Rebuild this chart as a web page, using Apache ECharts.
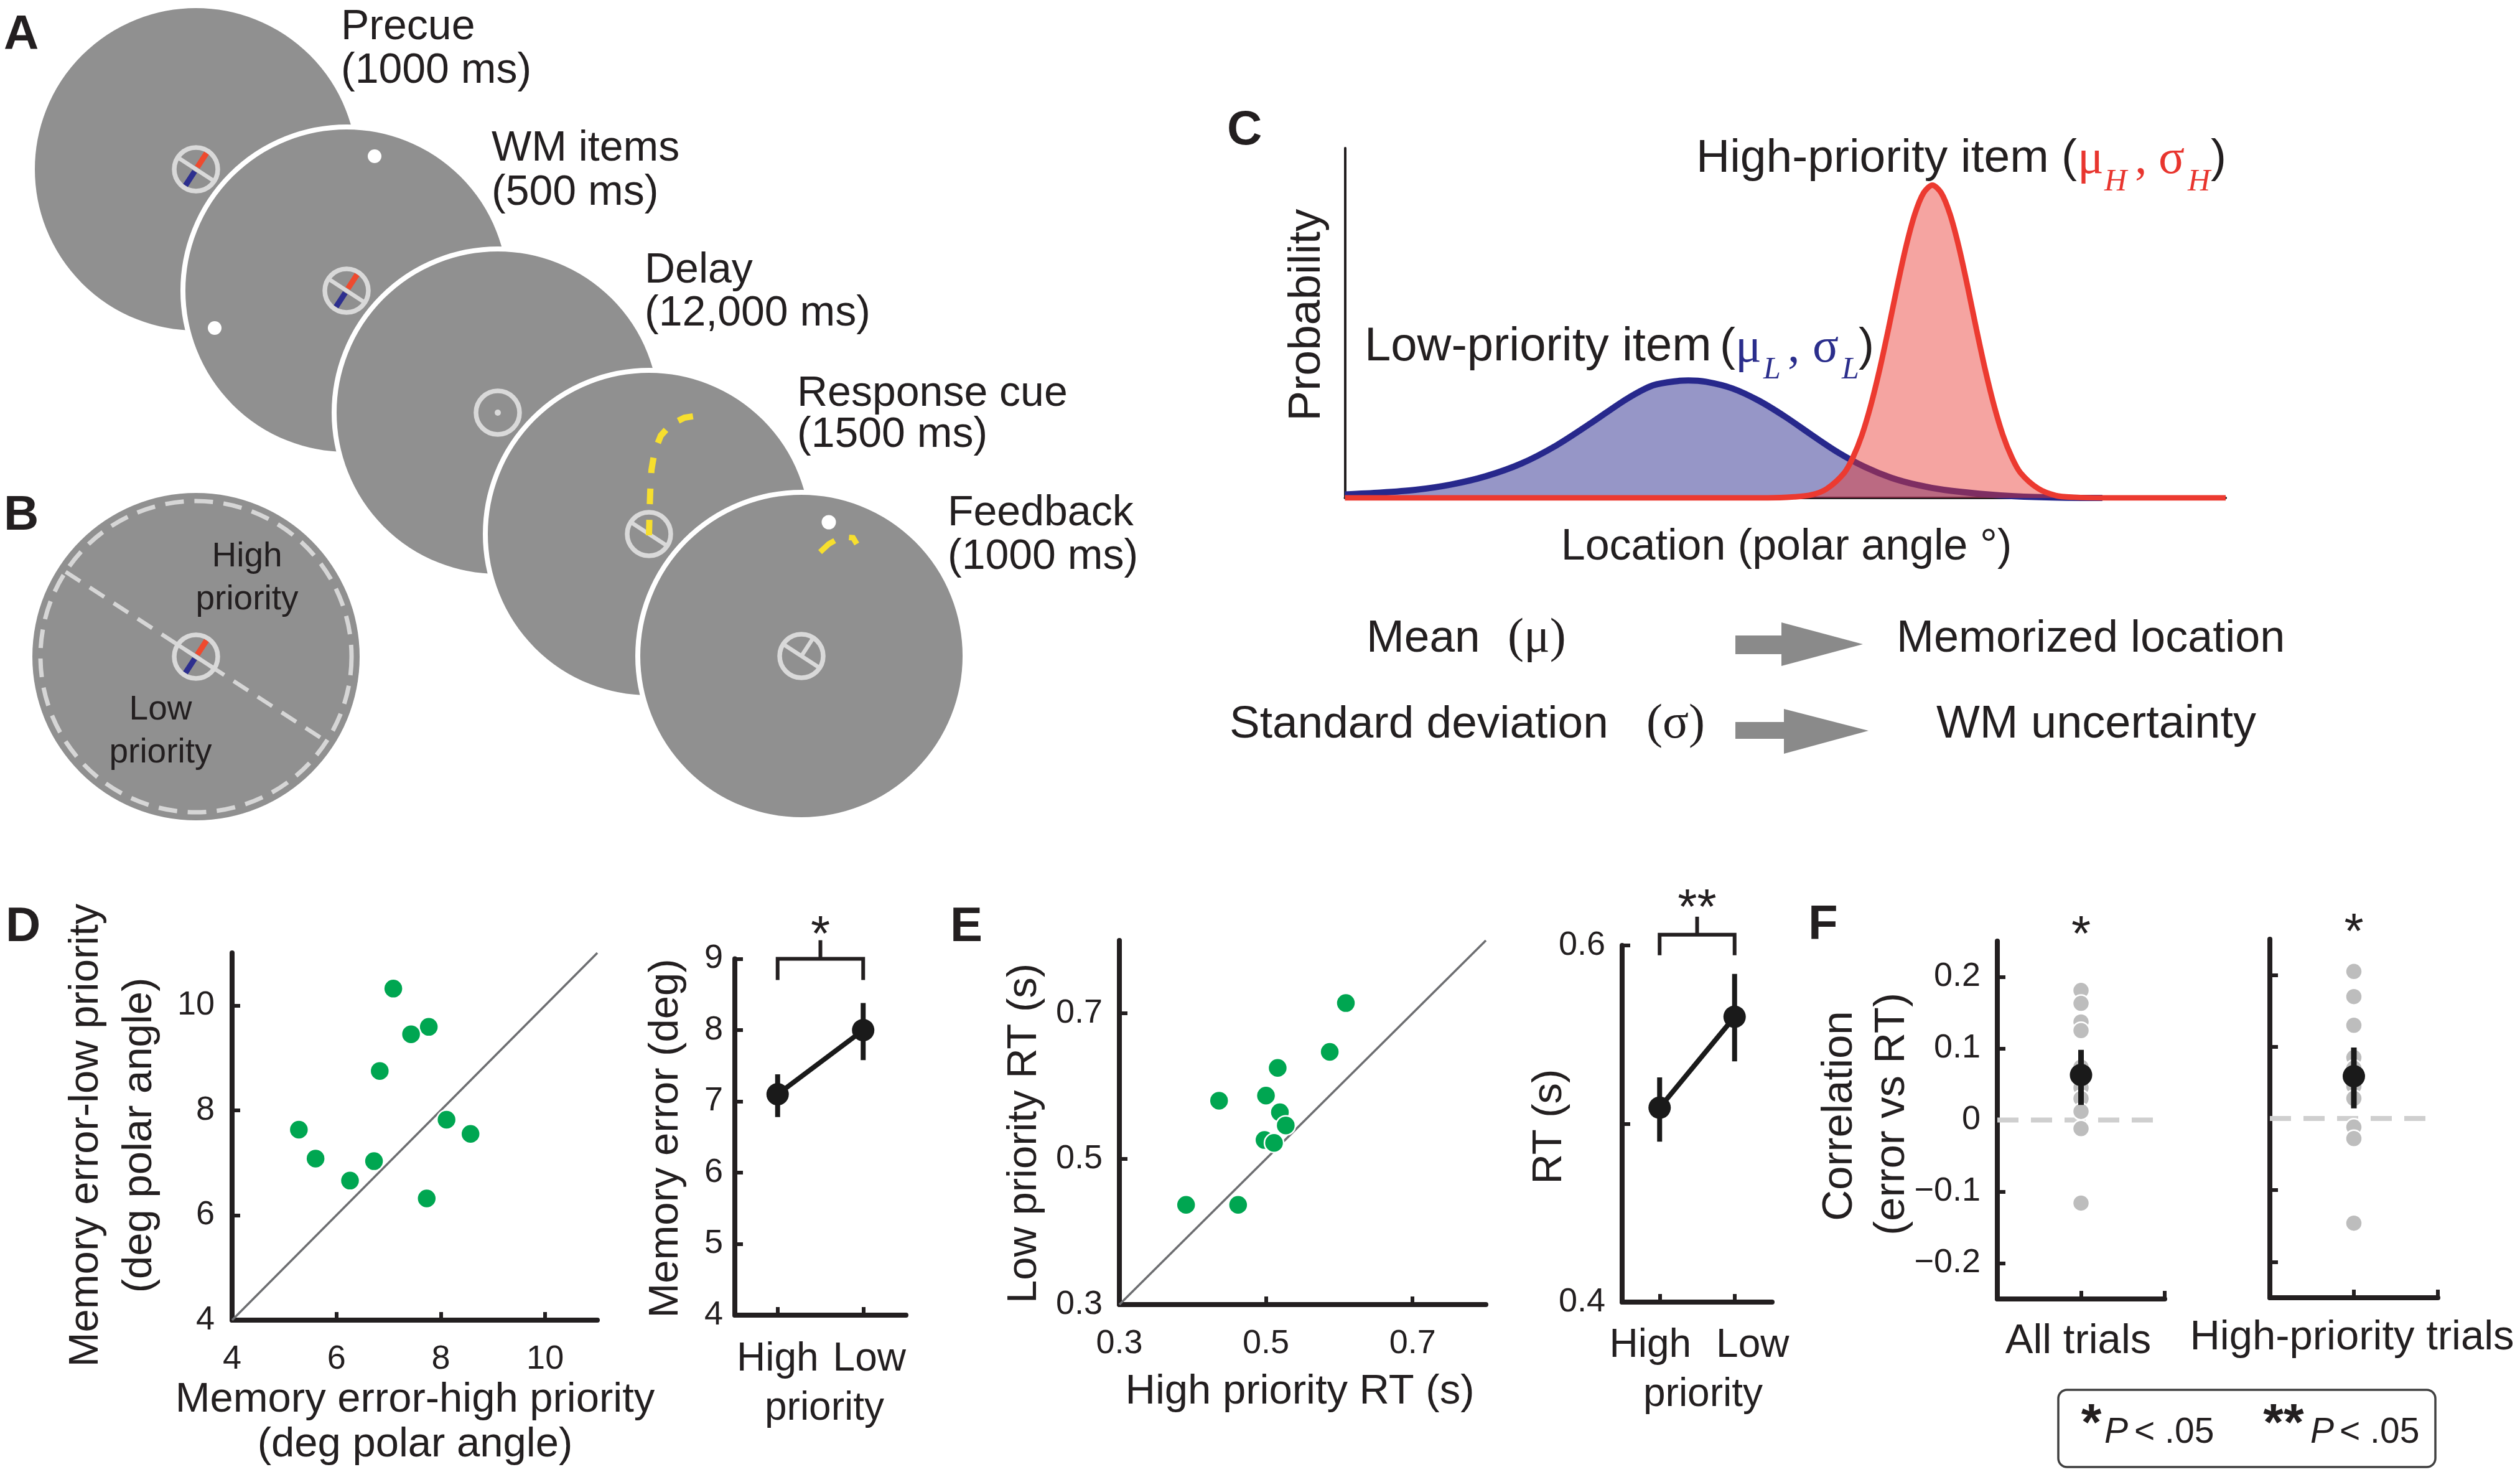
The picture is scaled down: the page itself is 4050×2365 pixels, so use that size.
<!DOCTYPE html>
<html><head><meta charset="utf-8">
<script src="https://cdn.jsdelivr.net/npm/echarts@6/dist/echarts.min.js"></script>
<style>html,body{margin:0;padding:0;background:#fff}#c{width:4050px;height:2365px}</style>
</head><body><div id="c"></div>
<script>
// ---------------- data ----------------
// Panel C: probability curves (x: location 0..100, y: % of axis height)
const cBlueX = [0, 4, 8, 12, 16, 20, 24, 28, 32, 35, 38, 39, 41, 44, 47, 50, 53, 56, 59, 62, 65, 68, 72, 76, 81, 86];
const cBlueY = [1.0, 1.5, 2.3, 3.8, 6.2, 9.8, 15.0, 21.5, 28.3, 32.2, 33.5, 33.6, 33.2, 31.3, 27.8, 23.2, 18.0, 13.0, 8.9, 5.8, 3.7, 2.3, 1.2, 0.5, 0.1, 0];
const cRedX = [0, 48, 51, 53, 54.7, 56.7, 57.7, 58.7, 59.7, 60.7, 61.7, 62.7, 63.7, 64.7, 65.7, 66.7, 67.7, 68.7, 69.7, 70.7, 71.7, 72.7, 73.7, 74.7, 75.7, 76.7, 78.7, 80.7, 82.7, 86, 100];
const cRedY = [0, 0, 0.3, 0.9, 2.6, 7.2, 11.7, 18.0, 26.4, 36.6, 48.2, 60.4, 71.8, 81.1, 87.2, 89.4, 87.2, 81.1, 71.8, 60.4, 48.2, 36.6, 26.4, 18.0, 11.7, 7.2, 2.7, 0.7, 0.2, 0, 0];

// Panel D
const dHigh = [7.09, 7.77, 7.43, 6.83, 5.28, 8.11, 8.57, 5.60, 6.72, 6.26, 7.73];
const dLow  = [10.32, 9.59, 9.45, 8.75, 7.63, 7.82, 7.55, 7.08, 7.03, 6.66, 6.32];
const dIdentity = [4, 11];
const priorityCats = ['High', 'Low'];
const dMean = [7.1, 8.0];
const dLo = [6.78, 7.58];
const dHi = [7.38, 8.38];
const dSig = '*';

// Panel E
const eHigh = [0.609, 0.587, 0.516, 0.436, 0.500, 0.519, 0.527, 0.498, 0.511, 0.391, 0.462];
const eLow  = [0.714, 0.647, 0.625, 0.580, 0.587, 0.564, 0.546, 0.526, 0.522, 0.437, 0.437];
const eIdentity = [0.3, 0.8];
const eMean = [0.509, 0.560];
const eLo = [0.490, 0.535];
const eHi = [0.526, 0.584];
const eSig = '**';

// Panel F
const fAll = [0.181, 0.163, 0.137, 0.125, 0.074, 0.058, 0.045, 0.030, 0.012, -0.012, -0.116];
const fHighPri = [0.205, 0.170, 0.130, 0.085, 0.070, 0.058, 0.045, 0.028, -0.012, -0.028, -0.146];
const fMean = [0.063, 0.059];
const fLo = [0.021, 0.014];
const fHi = [0.098, 0.099];
const fZero = [0, 2];
const fSig = ['*', '*'];
const fGroups = ['All trials', 'High-priority trials'];

// Tick values
const dScatterTicks = [4, 6, 8, 10];
const dLineTicks = [4, 5, 6, 7, 8, 9];
const eScatterTicks = [0.3, 0.5, 0.7];
const eLineTicks = [0.4, 0.5, 0.6];
const eLineLabels = [0.4, 0.6];
const fTicks = [-0.2, -0.1, 0, 0.1, 0.2];
const fXTicks = [1, 2];

// ---------------- styling helpers ----------------
const INK = '#231f20';
const FONT = 'Liberation Sans';
const SERIF = 'Liberation Serif';
const GREEN = '#00a651';

function vAxis(gridIndex, min, max, ticks, labels, margin, fmt) {
  return {
    type: 'value', gridIndex, min, max,
    axisLine: {show: true, onZero: false, lineStyle: {color: INK, width: 8}},
    axisTick: {show: ticks !== null, inside: true, length: 13, customValues: ticks || undefined, lineStyle: {color: INK, width: 6}},
    axisLabel: {show: labels !== null, customValues: labels || undefined, margin: margin || 8,
      fontSize: 54, fontFamily: FONT, color: INK, formatter: fmt || (v => String(v))},
    splitLine: {show: false}
  };
}
function cAxis(gridIndex, margin, padHigh, padLow) {
  return {
    type: 'category', gridIndex, data: priorityCats, boundaryGap: true,
    axisLine: {show: true, onZero: false, lineStyle: {color: INK, width: 8}},
    axisTick: {show: true, inside: true, alignWithLabel: true, length: 13, lineStyle: {color: INK, width: 6}},
    axisLabel: {interval: 0, margin,
      formatter: v => (v === priorityCats[0] ? '{h|' + v + '}' : '{l|' + v + '}'),
      rich: {
        h: {fontSize: 64, fontFamily: FONT, color: INK, padding: [0, padHigh, 0, 0]},
        l: {fontSize: 64, fontFamily: FONT, color: INK, padding: [0, 0, 0, padLow]}
      }},
    splitLine: {show: false}
  };
}
function errSeries(xi, yi, xs, lo, hi, w) {
  return {
    type: 'custom', xAxisIndex: xi, yAxisIndex: yi, clip: false, silent: true, z: 4,
    data: xs.map((x, i) => [x, lo[i], hi[i]]),
    encode: {x: 0, y: [1, 2]},
    renderItem: (p, api) => {
      const a = api.coord([api.value(0), api.value(1)]);
      const b = api.coord([api.value(0), api.value(2)]);
      return {type: 'line', shape: {x1: a[0], y1: a[1], x2: b[0], y2: b[1]}, style: {stroke: '#1a1a1a', lineWidth: w}};
    }
  };
}
function bracketSeries(xi, yi, yVal, label, leg, stem, starDy) {
  return {
    type: 'custom', xAxisIndex: xi, yAxisIndex: yi, clip: false, silent: true, z: 4,
    data: [[0, 1, yVal]],
    encode: {x: 0, y: 2},
    renderItem: (p, api) => {
      const a = api.coord([api.value(0), api.value(2)]);
      const b = api.coord([api.value(1), api.value(2)]);
      const m = (a[0] + b[0]) / 2;
      return {type: 'group', children: [
        {type: 'polyline', shape: {points: [[a[0], a[1] + leg], [a[0], a[1]], [b[0], b[1]], [b[0], b[1] + leg]]},
          style: {stroke: INK, lineWidth: 6, fill: null}},
        {type: 'line', shape: {x1: m, y1: a[1], x2: m, y2: a[1] - stem}, style: {stroke: INK, lineWidth: 6}},
        {type: 'text', x: m, y: a[1] + starDy,
          style: {text: label, font: '80px "' + FONT + '"', fill: INK, textAlign: 'center', textVerticalAlign: 'middle'}}
      ]};
    }
  };
}
function starSeries(xi, yi, x, y, label, dy) {
  return {
    type: 'custom', xAxisIndex: xi, yAxisIndex: yi, clip: false, silent: true, z: 6,
    data: [[x, y]],
    renderItem: (p, api) => {
      const c = api.coord([api.value(0), api.value(1)]);
      return {type: 'text', x: c[0], y: c[1] + dy,
        style: {text: label, font: '80px "' + FONT + '"', fill: INK, textAlign: 'center', textVerticalAlign: 'middle'}};
    }
  };
}
const minusFmt = v => String(Math.round(v * 10) / 10).replace('-', '\u2212');

// ---------------- text / illustration helpers ----------------
function T(text, x, y, size, o) {
  o = o || {};
  return {type: 'text', x, y, rotation: o.rot || 0, silent: true, z: 20,
    style: {text, font: (o.style || 'normal') + ' ' + (o.weight || 'normal') + ' ' + size + 'px "' + (o.family || FONT) + '"',
      fill: o.color || INK, textAlign: o.align || 'center', textVerticalAlign: 'middle'}};
}
const DIAG = [0.838, 0.545];
const PERP = [0.545, -0.838];
const RING = '#d9d9d9';
function disc(cx, cy) {
  return {type: 'circle', shape: {cx, cy, r: 263}, style: {fill: '#909090', stroke: '#ffffff', lineWidth: 8}};
}
function ring(cx, cy) {
  return {type: 'circle', shape: {cx, cy, r: 35}, style: {fill: null, stroke: RING, lineWidth: 7.5}};
}
function diag(cx, cy) {
  return {type: 'line', shape: {x1: cx - 33 * DIAG[0], y1: cy - 33 * DIAG[1], x2: cx + 33 * DIAG[0], y2: cy + 33 * DIAG[1]},
    style: {stroke: RING, lineWidth: 6.5}};
}
function bars(cx, cy) {
  return [
    {type: 'line', shape: {x1: cx + 4 * PERP[0], y1: cy + 4 * PERP[1], x2: cx + 31 * PERP[0], y2: cy + 31 * PERP[1]},
      style: {stroke: '#ef4a2e', lineWidth: 9}},
    {type: 'line', shape: {x1: cx - 4 * PERP[0], y1: cy - 4 * PERP[1], x2: cx - 31 * PERP[0], y2: cy - 31 * PERP[1]},
      style: {stroke: '#2d2f8f', lineWidth: 9}}
  ];
}
function dot(cx, cy, r, c) {
  return {type: 'circle', shape: {cx, cy, r}, style: {fill: c}};
}
const YEL = '#f7df2e';
const C1 = [315, 272], C2 = [557, 467], C3 = [800, 663], C4 = [1043, 858], C5 = [1288, 1054], CB = [315, 1055];

const illus = [];
// Panel A discs
illus.push(disc(...C1), ring(...C1), diag(...C1), ...bars(...C1));
illus.push(disc(...C2), dot(602, 251, 11, '#ffffff'), dot(345, 527, 11, '#ffffff'), ring(...C2), diag(...C2), ...bars(...C2));
illus.push(disc(...C3), ring(...C3), dot(C3[0], C3[1], 5, RING));
illus.push(disc(...C4), ring(...C4), diag(...C4),
  {type: 'polyline', shape: {points: [[1043, 860], [1044, 820], [1045, 790], [1047, 755], [1052, 725], [1062, 700], [1078, 682], [1100, 671], [1126, 667]]},
    style: {stroke: YEL, lineWidth: 10, fill: null, lineDash: [25, 25]}});
illus.push(disc(...C5), dot(1332, 839, 11.5, '#ffffff'),
  {type: 'polyline', shape: {points: [[1318, 887], [1332, 874], [1346, 866], [1360, 863], [1371, 864], [1377, 874]]},
    style: {stroke: YEL, lineWidth: 9, fill: null, lineDash: [30, 24]}},
  ring(...C5), diag(...C5),
  {type: 'line', shape: {x1: C5[0], y1: C5[1], x2: C5[0] + 32 * PERP[0], y2: C5[1] + 32 * PERP[1]}, style: {stroke: RING, lineWidth: 6.5}});
// Panel B
illus.push({type: 'circle', shape: {cx: CB[0], cy: CB[1], r: 263}, style: {fill: '#909090'}},
  {type: 'circle', shape: {cx: CB[0], cy: CB[1], r: 250}, style: {fill: null, stroke: '#d6d6d6', lineWidth: 7, lineDash: [30, 17]}},
  {type: 'line', shape: {x1: CB[0] - 250 * DIAG[0], y1: CB[1] - 250 * DIAG[1], x2: CB[0] + 250 * DIAG[0], y2: CB[1] + 250 * DIAG[1]},
    style: {stroke: '#d6d6d6', lineWidth: 6.5, lineDash: [28, 18]}},
  ring(...CB), diag(...CB), ...bars(...CB));
// Panel C arrows
illus.push({type: 'polygon', shape: {points: [[2789, 1021], [2863, 1021], [2863, 1000], [2994, 1035], [2863, 1070], [2863, 1051], [2789, 1051]]}, style: {fill: '#8a8a8a'}});
illus.push({type: 'polygon', shape: {points: [[2789, 1160], [2867, 1160], [2867, 1139], [3003, 1174], [2867, 1211], [2867, 1187], [2789, 1187]]}, style: {fill: '#8a8a8a'}});
// Legend box (panel F)
illus.push({type: 'rect', shape: {x: 3308, y: 2233, width: 606, height: 124, r: 14}, style: {fill: '#ffffff', stroke: '#404040', lineWidth: 3.5}});

const RED = '#e8352e', BLUE = '#2b2e8c';
const texts = [
  // panel letters
  T('A', 6, 57, 78, {weight: 'bold', align: 'left'}),
  T('B', 6, 829, 78, {weight: 'bold', align: 'left'}),
  T('C', 1972, 210, 78, {weight: 'bold', align: 'left'}),
  T('D', 9, 1490, 78, {weight: 'bold', align: 'left'}),
  T('E', 1527, 1490, 78, {weight: 'bold', align: 'left'}),
  T('F', 2906, 1487, 78, {weight: 'bold', align: 'left'}),
  // panel A
  T('Precue', 548, 44, 68, {align: 'left'}), T('(1000 ms)', 548, 114, 68, {align: 'left'}),
  T('WM items', 790, 239, 68, {align: 'left'}), T('(500 ms)', 790, 310, 68, {align: 'left'}),
  T('Delay', 1036, 435, 68, {align: 'left'}), T('(12,000 ms)', 1036, 504, 68, {align: 'left'}),
  T('Response cue', 1281, 633, 68, {align: 'left'}), T('(1500 ms)', 1281, 699, 68, {align: 'left'}),
  T('Feedback', 1523, 825, 68, {align: 'left'}), T('(1000 ms)', 1523, 895, 68, {align: 'left'}),
  // panel B
  T('High', 397, 895, 55), T('priority', 397, 964, 55),
  T('Low', 258, 1141, 55), T('priority', 258, 1210, 55),
  // panel C
  T('Probability', 2101, 506, 73, {rot: Math.PI / 2}),
  T('Location (polar angle \u00b0)', 2871, 880, 70),
  T('High-priority item', 2726, 255, 75, {align: 'left'}),
  T('(', 3313, 255, 75, {align: 'left'}),
  T('\u03bc', 3339, 258, 78, {align: 'left', family: SERIF, color: RED}),
  T('H', 3382, 293, 50, {align: 'left', family: SERIF, style: 'italic', color: RED}),
  T(',', 3431, 258, 78, {align: 'left', family: SERIF, color: RED}),
  T('\u03c3', 3469, 258, 78, {align: 'left', family: SERIF, color: RED}),
  T('H', 3516, 293, 50, {align: 'left', family: SERIF, style: 'italic', color: RED}),
  T(')', 3553, 255, 75, {align: 'left'}),
  T('Low-priority item', 2193, 558, 76, {align: 'left'}),
  T('(', 2764, 558, 75, {align: 'left'}),
  T('\u03bc', 2789, 561, 78, {align: 'left', family: SERIF, color: BLUE}),
  T('L', 2834, 595, 50, {align: 'left', family: SERIF, style: 'italic', color: BLUE}),
  T(',', 2873, 561, 78, {align: 'left', family: SERIF, color: BLUE}),
  T('\u03c3', 2913, 561, 78, {align: 'left', family: SERIF, color: BLUE}),
  T('L', 2960, 595, 50, {align: 'left', family: SERIF, style: 'italic', color: BLUE}),
  T(')', 2987, 558, 75, {align: 'left'}),
  T('Mean', 2196, 1027, 73, {align: 'left'}),
  T('(\u03bc)', 2423, 1027, 78, {align: 'left', family: SERIF}),
  T('Standard deviation', 1976, 1165, 73, {align: 'left'}),
  T('(\u03c3)', 2646, 1165, 78, {align: 'left', family: SERIF}),
  T('Memorized location', 3048, 1027, 72, {align: 'left'}),
  T('WM uncertainty', 3112, 1165, 74, {align: 'left'}),
  // panel D
  T('Memory error-low priority', 139, 1824, 67, {rot: Math.PI / 2}),
  T('(deg polar angle)', 225, 1824, 67, {rot: Math.PI / 2}),
  T('Memory error-high priority', 667, 2250, 67),
  T('(deg polar angle)', 667, 2322, 67),
  T('Memory error (deg)', 1071, 1829, 67, {rot: Math.PI / 2}),
  T('priority', 1325, 2263, 64),
  // panel E
  T('Low priority RT (s)', 1647, 1821, 67, {rot: Math.PI / 2}),
  T('High priority RT (s)', 2089, 2237, 67),
  T('RT (s)', 2491, 1810, 67, {rot: Math.PI / 2}),
  T('priority', 2737, 2241, 64),
  // panel F
  T('Correlation', 2957, 1793, 69, {rot: Math.PI / 2}),
  T('(error vs RT)', 3041, 1790, 69, {rot: Math.PI / 2}),
  T(fGroups[0], 3340, 2156, 67),
  T(fGroups[1], 3780, 2150, 67),
  // legend
  T('*', 3361, 2291, 84, {weight: 'bold'}),
  T('P', 3382, 2302, 57, {align: 'left', style: 'italic'}),
  T('< .05', 3430, 2302, 57, {align: 'left'}),
  T('**', 3670, 2291, 84, {weight: 'bold'}),
  T('P', 3713, 2302, 57, {align: 'left', style: 'italic'}),
  T('< .05', 3760, 2302, 57, {align: 'left'})
];

// ---------------- chart ----------------
const chart = echarts.init(document.getElementById('c'), null, {renderer: 'canvas', width: 4050, height: 2365});
const grid = (left, top, width, height) => ({left, top, width, height, containLabel: false, outerBoundsMode: 'none'});

const option = {
  backgroundColor: '#ffffff',
  animation: false,
  grid: [
    grid(2161.5, 238, 1415.5, 562),   // 0 C
    grid(373, 1531, 587, 590),        // 1 D scatter
    grid(1181, 1540.6, 275, 572.4),   // 2 D line
    grid(1799, 1511, 589, 585),       // 3 E scatter
    grid(2607, 1519, 241, 573),       // 4 E line
    grid(3210, 1512, 269, 575),       // 5 F all
    grid(3648, 1509, 270, 576)        // 6 F high
  ],
  xAxis: [
    {type: 'value', gridIndex: 0, min: 0, max: 100, axisLine: {show: true, onZero: false, lineStyle: {color: INK, width: 4}},
      axisTick: {show: false}, axisLabel: {show: false}, splitLine: {show: false}},
    vAxis(1, 4, 11, dScatterTicks, dScatterTicks, 36),
    cAxis(2, 39, 0, 20),
    vAxis(3, 0.3, 0.8, eScatterTicks, eScatterTicks, 36),
    cAxis(4, 38, 30, 58),
    vAxis(5, 0, 2, fXTicks, null),
    vAxis(6, 0, 2, fXTicks, null)
  ],
  yAxis: [
    {type: 'value', gridIndex: 0, min: 0, max: 100, axisLine: {show: true, onZero: false, lineStyle: {color: INK, width: 4}},
      axisTick: {show: false}, axisLabel: {show: false}, splitLine: {show: false}},
    vAxis(1, 4, 11, dScatterTicks, dScatterTicks, 28),
    vAxis(2, 4, 9, dLineTicks, dLineTicks, 19),
    vAxis(3, 0.3, 0.8, eScatterTicks, eScatterTicks, 27),
    vAxis(4, 0.4, 0.6, eLineTicks, eLineLabels, 27),
    vAxis(5, -0.25, 0.25, fTicks, fTicks, 27, minusFmt),
    vAxis(6, -0.25, 0.25, fTicks, null)
  ],
  graphic: {elements: illus.concat(texts)},
  series: [
    // Panel C
    {type: 'line', xAxisIndex: 0, yAxisIndex: 0, data: cBlueX.map((x, i) => [x, cBlueY[i]]), smooth: 0.3,
      showSymbol: false, symbol: 'none', lineStyle: {color: '#27288c', width: 10}, areaStyle: {color: '#23238a', opacity: 0.48}, z: 2, silent: true},
    {type: 'line', xAxisIndex: 0, yAxisIndex: 0, data: cRedX.map((x, i) => [x, cRedY[i]]), smooth: 0.3,
      showSymbol: false, symbol: 'none', lineStyle: {color: '#ec3a30', width: 9}, areaStyle: {color: '#e8352e', opacity: 0.45}, z: 3, silent: true},
    // Panel D scatter
    {type: 'line', xAxisIndex: 1, yAxisIndex: 1, data: [[dIdentity[0], dIdentity[0]], [dIdentity[1], dIdentity[1]]], symbol: 'none',
      lineStyle: {color: '#6d6e71', width: 3.5}, z: 2, silent: true},
    {type: 'scatter', xAxisIndex: 1, yAxisIndex: 1, data: dHigh.map((x, i) => [x, dLow[i]]), symbolSize: 31,
      itemStyle: {color: GREEN, borderColor: '#ffffff', borderWidth: 2.5, opacity: 1}, z: 3, silent: true},
    // Panel D line
    errSeries(2, 2, [0, 1], dLo, dHi, 8),
    {type: 'line', xAxisIndex: 2, yAxisIndex: 2, data: dMean, symbol: 'circle', symbolSize: 36,
      lineStyle: {color: '#1a1a1a', width: 8}, itemStyle: {color: '#1a1a1a'}, z: 5, silent: true},
    bracketSeries(2, 2, 9, dSig, 34, 30, -36),
    // Panel E scatter
    {type: 'line', xAxisIndex: 3, yAxisIndex: 3, data: [[eIdentity[0], eIdentity[0]], [eIdentity[1], eIdentity[1]]], symbol: 'none',
      lineStyle: {color: '#6d6e71', width: 3.5}, z: 2, silent: true},
    {type: 'scatter', xAxisIndex: 3, yAxisIndex: 3, data: eHigh.map((x, i) => [x, eLow[i]]), symbolSize: 31,
      itemStyle: {color: GREEN, borderColor: '#ffffff', borderWidth: 2.5, opacity: 1}, z: 3, silent: true},
    // Panel E line
    errSeries(4, 4, [0, 1], eLo, eHi, 8),
    {type: 'line', xAxisIndex: 4, yAxisIndex: 4, data: eMean, symbol: 'circle', symbolSize: 36,
      lineStyle: {color: '#1a1a1a', width: 8}, itemStyle: {color: '#1a1a1a'}, z: 5, silent: true},
    bracketSeries(4, 4, 0.606, eSig, 33, 29, -40),
    // Panel F left
    {type: 'line', xAxisIndex: 5, yAxisIndex: 5, data: fZero.map(x => [x, 0]), symbol: 'none',
      lineStyle: {color: '#cfcfcf', width: 8, type: [34, 20]}, z: 1, silent: true},
    {type: 'scatter', xAxisIndex: 5, yAxisIndex: 5, data: fAll.map(v => [1, v]), symbolSize: 27,
      itemStyle: {color: '#bdbdbd', borderColor: '#ffffff', borderWidth: 2.5, opacity: 1}, z: 3, silent: true},
    errSeries(5, 5, [1], [fLo[0]], [fHi[0]], 9),
    {type: 'scatter', xAxisIndex: 5, yAxisIndex: 5, data: [[1, fMean[0]]], symbolSize: 36,
      itemStyle: {color: '#1a1a1a', opacity: 1}, z: 5, silent: true},
    starSeries(5, 5, 1, 0.25, fSig[0], -7),
    // Panel F right
    {type: 'line', xAxisIndex: 6, yAxisIndex: 6, data: fZero.map(x => [x, 0]), symbol: 'none',
      lineStyle: {color: '#cfcfcf', width: 8, type: [34, 20]}, z: 1, silent: true},
    {type: 'scatter', xAxisIndex: 6, yAxisIndex: 6, data: fHighPri.map(v => [1, v]), symbolSize: 27,
      itemStyle: {color: '#bdbdbd', borderColor: '#ffffff', borderWidth: 2.5, opacity: 1}, z: 3, silent: true},
    errSeries(6, 6, [1], [fLo[1]], [fHi[1]], 9),
    {type: 'scatter', xAxisIndex: 6, yAxisIndex: 6, data: [[1, fMean[1]]], symbolSize: 36,
      itemStyle: {color: '#1a1a1a', opacity: 1}, z: 5, silent: true},
    starSeries(6, 6, 1, 0.25, fSig[1], -8)
  ]
};
chart.setOption(option);
</script></body></html>
